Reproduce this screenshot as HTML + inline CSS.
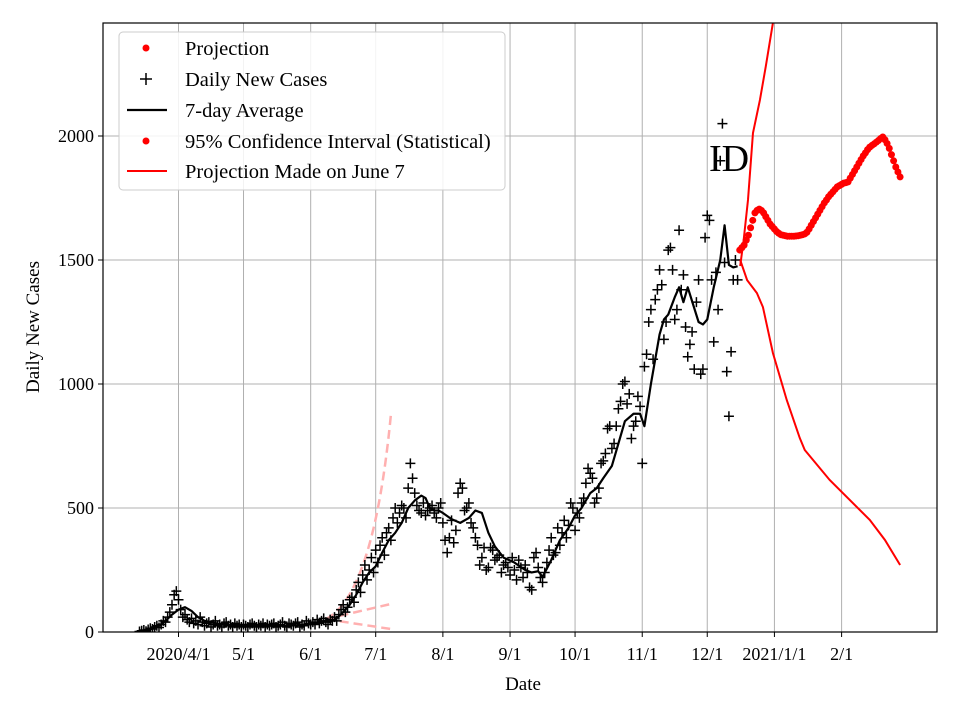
<!DOCTYPE html>
<html><head><meta charset="utf-8"><style>
body{margin:0;background:#fff}
svg{font-family:"Liberation Serif",serif}
</style></head><body>
<svg id="c" width="960" height="720"></svg>
<script>
const dailyStart=-18;
const dailyVals=[2,5,8,3,10,15,12,20,25,18,
30,45,40,60,80,110,150,165,130,90,
60,70,50,40,55,35,45,30,60,40,
25,35,40,20,30,45,25,30,20,35,
40,25,30,20,35,25,30,20,30,25,
20,30,35,25,20,30,25,35,20,30,
25,30,35,20,25,30,40,25,20,35,
30,25,35,40,20,30,25,45,35,30,
40,30,50,35,45,55,40,30,50,45,
60,45,70,90,110,80,100,130,140,120,
170,200,160,230,270,210,250,300,240,330,
280,350,380,310,400,420,370,460,500,440,
480,510,500,460,580,680,620,560,510,490,
480,520,470,490,500,510,480,460,500,520,
440,370,320,380,450,360,410,560,600,580,
490,500,520,440,420,380,350,270,300,340,
250,260,340,330,290,300,310,240,270,280,
260,230,300,250,210,290,260,220,270,240,
180,170,300,320,260,220,200,240,280,330,
380,310,320,420,350,400,450,380,430,520,
500,410,480,460,520,540,600,660,640,620,
520,540,580,680,690,720,820,830,740,760,
830,900,930,1000,1010,920,960,780,830,850,
950,910,680,1070,1120,1250,1300,1100,1340,1380,
1460,1400,1180,1250,1540,1550,1460,1260,1300,1620,
1380,1440,1230,1110,1160,1210,1060,1330,1420,1040,
1060,1590,1680,1660,1420,1170,1450,1300,1900,2050,
1490,1050,870,1130,1420,1500,1420];
const avgDays=[-18,-15,-12,-9,-6,-3,0,3,6,9,12,15,20,30,40,50,60,65,68,70,73,76,79,82,85,88,91,94,97,100,103,106,109,112,114,116,118,120,122,126,130,134,137,140,143,146,150,155,160,163,166,168,172,176,180,183,186,190,193,196,200,203,206,210,213,215,218,222,224,226,229,231,233,235,240,242,244,247,250,252,254,256,258];
const avgVals=[0,5,15,25,45,70,90,100,85,60,45,40,30,25,25,25,30,40,45,40,55,80,110,150,200,240,265,320,370,400,440,500,530,550,540,500,490,490,480,455,440,460,490,480,400,345,300,280,250,240,245,222,290,370,420,470,500,560,580,620,670,760,850,880,880,830,1000,1200,1260,1280,1350,1390,1330,1390,1250,1240,1260,1390,1500,1640,1480,1470,1475];
const projStart=259;
const projVals=[1540,1550,1560,1580,1600,1630,1660,1690,1700,1705,
1700,1690,1675,1660,1645,1635,1625,1615,1608,1602,
1600,1598,1596,1596,1596,1596,1597,1598,1600,1602,
1605,1612,1625,1640,1655,1670,1685,1700,1715,1730,
1742,1755,1765,1775,1785,1795,1800,1805,1810,1812,
1815,1830,1845,1860,1875,1890,1905,1920,1932,1945,
1955,1962,1968,1975,1982,1990,1996,1985,1970,1950,1925,1900,1875,1855,1835];
const upDays=[259.2,260.8,262.8,265.1,268.3,271,274.3,277];
const upVals=[1476,1580,1742,2012,2145,2280,2456,2600];
const loDays=[259.2,262.4,266.9,269.7,274.3,280.7,286.7,289,300.5,319,326,333];
const loVals=[1500,1419,1367,1310,1125,935,782,734,613,452,371,270];
const ciDays0=[68,98];
const ciUp=[52,875];const ciMid=[52,113];const ciLo=[52,12];
const xTickDays=[0,30,61,91,122,153,183,214,244,275,306];
const xTickLabels=["2020/4/1","5/1","6/1","7/1","8/1","9/1","10/1","11/1","12/1","2021/1/1","2/1"];
const yTicks=[0,500,1000,1500,2000];

const L=103,R=937,T=23,B=632;
const X=d=>178.5+d*2.167;
const Y=v=>B-v*0.248;
const NS="http://www.w3.org/2000/svg";
const svg=document.getElementById('c');
function mk(tag,attrs,parent){const e=document.createElementNS(NS,tag);for(const k in attrs)e.setAttribute(k,attrs[k]);(parent||svg).appendChild(e);return e;}
const defs=mk('defs',{});const cp=mk('clipPath',{id:'cp'},defs);mk('rect',{x:L,y:T,width:R-L,height:B-T},cp);
const grid=mk('g',{});


xTickDays.forEach((d,i)=>{
  mk('line',{x1:X(d),x2:X(d),y1:T,y2:B,stroke:'#b0b0b0','stroke-width':1},grid);
  mk('line',{x1:X(d),x2:X(d),y1:B,y2:B+5,stroke:'#000'});
  const t=mk('text',{x:X(d),y:B+28,'text-anchor':'middle','font-size':18});t.textContent=xTickLabels[i];
  
  
});
yTicks.forEach(v=>{
  mk('line',{x1:L,x2:R,y1:Y(v),y2:Y(v),stroke:'#b0b0b0','stroke-width':1},grid);
  mk('line',{x1:L-5,x2:L,y1:Y(v),y2:Y(v),stroke:'#000'});
  const t=mk('text',{x:L-9,y:Y(v)+6,'text-anchor':'end','font-size':18});t.textContent=v;
  
  
});
const pl=mk('g',{'clip-path':'url(#cp)'});
[ciUp,ciMid,ciLo].forEach((arr,k)=>{
  let d;
  if(k===0){d=`M${X(ciDays0[0])},${Y(arr[0])} Q${X(90)},${Y(150)} ${X(ciDays0[1])},${Y(arr[1])}`;}
  else d=`M${X(ciDays0[0])},${Y(arr[0])} L${X(ciDays0[1])},${Y(arr[1])}`;
  const p=mk('path',{d,fill:'none',stroke:'#ffb0b0','stroke-width':2.5,'stroke-dasharray':'9,5'},pl);
  
  
});
dailyVals.forEach((v,i)=>{
  const x=X(dailyStart+i),y=Y(v);
  const p=mk('path',{d:`M${x-5},${y}H${x+5}M${x},${y-5}V${y+5}`,stroke:'#000','stroke-width':1.5},pl);
  
  
});
const av=mk('polyline',{points:avgDays.map((d,i)=>X(d)+','+Y(avgVals[i])).join(' '),fill:'none',stroke:'#000','stroke-width':2.2,'stroke-linejoin':'round'},pl);


const up=mk('polyline',{points:upDays.map((d,i)=>X(d)+','+Y(upVals[i])).join(' '),fill:'none',stroke:'#f00','stroke-width':2},pl);


const lo=mk('polyline',{points:loDays.map((d,i)=>X(d)+','+Y(loVals[i])).join(' '),fill:'none',stroke:'#f00','stroke-width':2},pl);


projVals.forEach((v,i)=>{
  const c=mk('circle',{cx:X(projStart+i),cy:Y(v),r:3.5,fill:'#f00'},pl);
  
  
});
const ax=mk('rect',{x:L,y:T,width:R-L,height:B-T,fill:'none',stroke:'#000','stroke-width':1.2});


</script>
<div style="position:absolute;left:0;top:0;width:960px;height:720px;pointer-events:none">
<svg width="960" height="720" style="font-family:'Liberation Serif',serif">
<text x="729" y="171" text-anchor="middle" font-size="38">ID</text>
<text transform="translate(39,327) rotate(-90)" text-anchor="middle" font-size="19">Daily New Cases</text>
<text x="523" y="690" text-anchor="middle" font-size="19">Date</text>
<g>
<rect x="119" y="32" width="386" height="158" rx="4" fill="#fff" fill-opacity="0.85" stroke="#ccc"/>
<circle cx="146" cy="48" r="3.5" fill="#f00"/>
<text x="185" y="55" font-size="20.5">Projection</text>
<path d="M140,79H152M146,73V85" stroke="#000" stroke-width="1.5"/>
<text x="185" y="86" font-size="20.5">Daily New Cases</text>
<line x1="127" x2="167" y1="110" y2="110" stroke="#000" stroke-width="2.2"/>
<text x="185" y="117" font-size="20.5">7-day Average</text>
<circle cx="146" cy="141" r="3.5" fill="#f00"/>
<text x="185" y="148" font-size="20.5">95% Confidence Interval (Statistical)</text>
<line x1="127" x2="167" y1="171" y2="171" stroke="#f00" stroke-width="2"/>
<text x="185" y="178" font-size="20.5">Projection Made on June 7</text>
</g>
</svg></div>
</body></html>
